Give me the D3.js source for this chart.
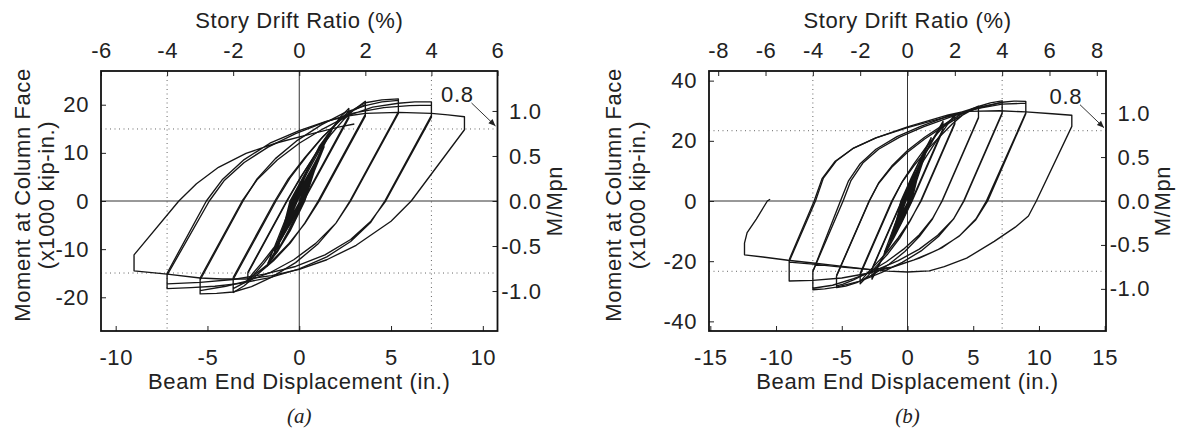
<!DOCTYPE html>
<html><head><meta charset="utf-8">
<script src="https://cdn.jsdelivr.net/npm/d3@7"></script>
<style>
body{margin:0;background:#fff}
svg{display:block}
text{font-family:"Liberation Sans",Arial,Helvetica,sans-serif;fill:#222}
</style>
</head><body>
<svg id="chart" width="1182" height="436"></svg>
<script>
// ---------------- tick labels ----------------
const dispTicksA = [-10, -5, 0, 5, 10];
const driftTicksA = [-6, -4, -2, 0, 2, 4, 6];
const momentTicksA = [-20, -10, 0, 10, 20];
const dispTicksB = [-15, -10, -5, 0, 5, 10, 15];
const driftTicksB = [-8, -6, -4, -2, 0, 2, 4, 6, 8];
const momentTicksB = [-40, -20, 0, 20, 40];
const ratioTicks = [-1.0, -0.5, 0.0, 0.5, 1.0];
const refRatio = [-0.8, 0.8];   // dotted M/Mpn reference
const refDrift = [-4, 4];       // dotted drift reference (%)

// ---------------- specimen (a): [displacement in., moment x1000 kip-in.] ----------------
const a_elastic = [
[0,0],[0.675,5.8],[0.06,0],[-0.675,-5.1],[-0.1,0],
[0.675,5.7],[0.04,0],[-0.675,-5.0],[-0.14,0],
[0.9,7.9],[0.08,0],[-0.9,-7.0],[-0.2,0],
[0.9,7.7],[0.05,0],[-0.9,-6.9],[-0.24,0],
[1.35,11.6],[0.12,0],[-1.35,-10.4],[-0.3,0],
[1.35,11.4],[0.1,0],[-1.35,-10.3],[-0.34,0],
[1.35,11.2],[0.16,0],[-1.35,-10.5],[-0.26,0],
[0.45,6.4],[1.1,11.4],[1.78,15.0],[1.25,11.2],[0.6,5.6],[0.18,0],[-0.55,-6.0],[-1.15,-10.2],[-1.75,-13.5],
[-1.2,-9.8],[-0.4,0],[0.4,6.0],[1.1,11.2],[1.78,14.8],[1.2,10.8],[0.24,0],[-0.6,-6.3],[-1.2,-10.4],[-1.72,-13.3],
[-1.15,-9.5],[-0.46,0],[0.35,5.8],[1.05,10.8],[1.76,14.6],[1.2,10.6],[0.28,0],[-0.55,-6.4],[-1.2,-10.6],[-1.72,-13.1],
[-1.1,-9.1],[-0.5,0],[0.3,5.6],[1.0,10.5],[1.75,14.5],[1.15,10.2],[0.3,0],[-0.5,-6.2],[-1.15,-10.2],[-1.7,-12.9],
[-1.18,-9.6],[-0.36,0],[0.38,5.9],[1.08,11.0],[1.77,14.9],[1.22,10.9],[0.2,0],[-0.58,-6.1],[-1.18,-10.3],[-1.74,-13.4],
[-1.12,-9.3],[-0.44,0],[0.33,5.7],[1.04,10.7],[1.76,14.7],[1.17,10.4],[0.26,0],[-0.52,-6.3],[-1.17,-10.4],[-1.7,-12.9]
];
const a_15 = [
[-1.7,-12.9],[-0.35,0],[0.4,5.6],[1.1,10.5],[1.8,15.0],[2.2,17.3],[2.7,19.2],[2.7,17.6],
[0.2,0],[-0.5,-4.8],[-1.2,-9.2],[-1.9,-12.8],[-2.4,-15.0],[-2.8,-16.8],[-2.8,-15.0],
[-0.66,0],[0.1,5.0],[0.9,9.9],[1.6,14.0],[2.2,16.9],[2.7,18.6],[2.7,17.2],
[0.24,0],[-0.5,-4.9],[-1.3,-9.3],[-2.0,-12.7],[-2.5,-14.9],[-2.8,-16.4],[-2.8,-14.8]
];
const a_2 = [
[-2.8,-14.8],[-0.69,0],[0.1,5.1],[0.9,9.7],[1.7,13.7],[2.4,16.8],[3.0,19.0],[3.6,20.7],[3.6,18.0],
[1.03,0],[0.3,-4.6],[-0.5,-8.8],[-1.4,-12.4],[-2.3,-15.3],[-3.0,-17.6],[-3.6,-19.0],[-3.6,-16.3],
[-1.27,0],[-0.5,4.8],[0.4,9.3],[1.3,13.4],[2.2,16.6],[2.9,18.7],[3.6,20.0],[3.6,17.6],
[1.09,0],[0.3,-4.7],[-0.6,-9.0],[-1.5,-12.5],[-2.4,-15.2],[-3.0,-17.0],[-3.6,-18.2],[-3.6,-15.9]
];
const a_3 = [
[-3.6,-15.9],[-1.33,0],[-0.6,4.6],[0.3,9.0],[1.2,13.0],[2.1,16.4],[2.9,18.9],[3.6,20.4],[4.5,21.0],[5.4,21.2],[5.4,18.5],
[2.76,0],[2.0,-4.6],[1.0,-9.0],[-0.2,-12.8],[-1.5,-15.8],[-2.6,-17.8],[-3.6,-18.9],[-4.5,-19.2],[-5.4,-19.3],[-5.4,-16.4],
[-3.06,0],[-2.3,4.6],[-1.3,8.8],[-0.1,12.6],[1.2,15.8],[2.5,18.4],[3.6,19.8],[4.5,20.6],[5.4,20.9],[5.4,18.2],
[2.8,0],[2.0,-4.6],[0.9,-8.8],[-0.3,-12.2],[-1.6,-14.9],[-2.8,-16.6],[-4.0,-17.7],[-5.4,-18.6],[-5.4,-16.0]
];
const a_4 = [
[-5.4,-16.0],[-3.11,0],[-2.3,4.4],[-1.2,8.5],[0,12.0],[1.3,15.0],[2.7,17.8],[4.0,19.5],[5.4,20.3],[6.3,20.6],[7.2,20.6],[7.2,17.8],
[4.66,0],[3.9,-4.4],[2.8,-8.4],[1.5,-11.6],[0,-14.1],[-1.6,-15.9],[-3.2,-17.1],[-4.6,-17.7],[-5.9,-18.0],[-7.2,-18.2],[-7.2,-15.4],
[-4.9,0],[-4.1,4.2],[-3.0,8.0],[-1.7,11.2],[-0.2,14.0],[1.4,16.4],[3.0,18.3],[4.6,19.4],[6.0,19.8],[7.2,19.9],[7.2,17.4],
[4.71,0],[3.9,-4.2],[2.8,-8.0],[1.4,-11.2],[-0.2,-13.6],[-1.9,-15.2],[-3.6,-16.3],[-5.4,-16.9],[-7.2,-17.2],[-7.2,-15.0]
];
const a_5 = [
[-7.2,-15.0],[-5.06,0],[-4.2,4.4],[-3.0,8.6],[-1.6,12.0],[0,14.6],[1.5,16.6],[2.7,17.7],[3.6,18.2],[5.4,18.4],[7.2,18.2],[8.1,17.9],[9.0,17.5],[9.0,14.8],
[6.1,0],[5.0,-4.2],[3.1,-9.2],[1.5,-12.2],[0,-14.2],[-1.5,-15.5],[-2.9,-16.2],[-4.2,-16.2],[-5.4,-16.0],[-7.2,-15.2],[-9.0,-14.5],[-9.0,-11.2],
[-6.56,0],[-5.6,3.6],[-4.4,7.0],[-2.9,9.9],[-1.2,12.1],[0.6,13.9],[2.2,15.4],[3.0,16.0]
];

// ---------------- specimen (b) ----------------
const b_elastic = [
[0,0],[0.675,7.9],[0.08,0],[-0.675,-6.8],[-0.12,0],
[0.675,7.8],[0.06,0],[-0.675,-6.7],[-0.15,0],
[0.9,10.5],[0.1,0],[-0.9,-9.0],[-0.2,0],
[0.9,10.4],[0.08,0],[-0.9,-8.9],[-0.24,0],
[1.35,15.8],[0.15,0],[-1.35,-13.4],[-0.3,0],
[1.35,15.6],[0.12,0],[-1.35,-13.2],[-0.34,0],
[1.35,15.4],[0.18,0],[-1.35,-13.5],[-0.27,0],
[0.45,8.6],[1.1,15.2],[1.8,21.0],[1.3,16.4],[0.6,8.4],[0.2,0],[-0.55,-7.2],[-1.15,-12.6],[-1.78,-17.6],
[-1.2,-12.6],[-0.4,0],[0.4,8.4],[1.1,15.0],[1.8,20.8],[1.25,15.9],[0.25,0],[-0.6,-7.6],[-1.2,-13.0],[-1.76,-17.4],
[-1.15,-12.2],[-0.45,0],[0.35,8.0],[1.05,14.6],[1.78,20.6],[1.2,15.4],[0.3,0],[-0.55,-7.4],[-1.2,-12.8],[-1.75,-17.2],
[-1.1,-11.8],[-0.5,0],[0.3,7.8],[1.0,14.2],[1.76,20.4],[1.15,15.0],[0.32,0],[-0.5,-7.2],[-1.15,-12.6],[-1.74,-17.0],
[-1.18,-12.4],[-0.38,0],[0.38,8.2],[1.08,14.8],[1.79,20.9],[1.22,15.7],[0.22,0],[-0.58,-7.5],[-1.18,-12.9],[-1.77,-17.5],
[-1.12,-12.0],[-0.47,0],[0.33,7.9],[1.03,14.4],[1.77,20.5],[1.17,15.2],[0.28,0],[-0.52,-7.3],[-1.16,-12.7],[-1.74,-17.0]
];
const b_15 = [
[-1.74,-17.0],[-0.3,0],[0.3,6.5],[1.0,13.0],[1.7,18.8],[2.2,22.6],[2.7,26.5],[2.7,24.0],
[0.3,0],[-0.4,-6.6],[-1.1,-12.8],[-1.8,-18.2],[-2.3,-22.4],[-2.7,-26.0],[-2.7,-22.8],
[-0.42,0],[0.3,6.6],[1.0,12.8],[1.7,18.4],[2.2,22.2],[2.7,25.8],[2.7,23.5],
[0.35,0],[-0.4,-6.8],[-1.1,-12.8],[-1.8,-18.0],[-2.3,-22.0],[-2.7,-25.2],[-2.7,-22.5]
];
const b_2 = [
[-2.7,-22.5],[-0.45,0],[0.3,6.6],[1.1,12.6],[1.9,18.0],[2.6,22.6],[3.1,25.8],[3.6,28.8],[3.6,26.0],
[1.0,0],[0.2,-6.6],[-0.6,-12.4],[-1.5,-17.6],[-2.4,-21.8],[-3.0,-24.8],[-3.6,-27.5],[-3.6,-24.5],
[-1.15,0],[-0.4,6.4],[0.5,12.4],[1.4,17.8],[2.3,22.6],[3.0,25.9],[3.6,28.2],[3.6,25.6],
[1.04,0],[0.2,-6.4],[-0.7,-12.2],[-1.6,-17.2],[-2.5,-21.4],[-3.1,-24.2],[-3.6,-26.8],[-3.6,-24.0]
];
const b_3 = [
[-3.6,-24.0],[-1.2,0],[-0.45,6.0],[0.5,11.8],[1.5,17.0],[2.5,21.6],[3.4,25.6],[4.2,28.6],[4.9,30.6],[5.4,31.5],[5.4,27.8],
[2.62,0],[1.9,-6.0],[0.9,-11.8],[-0.2,-16.8],[-1.4,-21.0],[-2.6,-24.4],[-3.8,-27.0],[-4.7,-28.3],[-5.4,-28.8],[-5.4,-25.0],
[-2.9,0],[-2.2,5.8],[-1.2,11.2],[0,16.2],[1.3,20.6],[2.6,24.4],[3.8,27.6],[4.7,29.8],[5.4,31.0],[5.4,27.6],
[2.64,0],[1.9,-5.8],[0.9,-11.2],[-0.3,-16.0],[-1.6,-20.2],[-2.9,-23.6],[-4.1,-26.2],[-4.9,-27.6],[-5.4,-28.2],[-5.4,-24.8]
];
const b_4 = [
[-5.4,-24.8],[-2.92,0],[-2.2,6.0],[-1.2,11.6],[0,16.8],[1.3,21.2],[2.7,25.2],[4.0,28.6],[5.4,31.4],[6.3,32.6],[7.2,33.3],[7.2,29.3],
[4.27,0],[3.5,-6.0],[2.4,-11.6],[1.1,-16.4],[-0.4,-20.4],[-2.0,-23.8],[-3.6,-26.6],[-5.4,-28.6],[-6.3,-29.2],[-7.2,-29.5],[-7.2,-23.4],
[-4.9,0],[-4.3,6.8],[-3.4,12.6],[-2.2,17.2],[-0.6,21.2],[1.2,24.6],[3.2,27.8],[5.0,30.4],[6.2,31.8],[7.2,32.8],[7.2,29.0],
[4.3,0],[3.5,-6.0],[2.3,-11.4],[0.9,-16.0],[-0.7,-19.8],[-2.4,-23.0],[-4.1,-25.8],[-5.7,-28.0],[-7.2,-29.0],[-7.2,-23.4]
];
const b_5 = [
[-7.2,-23.4],[-5.1,0],[-4.5,6.6],[-3.6,12.4],[-2.4,17.2],[-0.8,21.4],[1.0,24.8],[3.0,28.0],[5.0,30.8],[7.2,32.8],[8.1,33.2],[9.0,33.1],[9.0,29.3],
[6.0,0],[5.2,-6.0],[4.0,-11.4],[2.6,-15.6],[0.9,-19.0],[-1.0,-21.8],[-3.0,-24.0],[-5.0,-25.6],[-7.2,-26.4],[-9.0,-26.6],[-9.0,-20.1],
[-7.0,0],[-6.4,7.6],[-5.4,13.4],[-4.1,17.6],[-2.4,21.0],[0,24.6],[3.1,28.6],[5.4,30.8],[7.2,32.2],[9.0,32.5],[9.0,29.0],
[6.1,0],[5.2,-6.2],[3.9,-11.8],[2.3,-16.2],[0.5,-19.6],[-1.2,-22.0],[-2.8,-22.8],[-5.4,-21.8],[-7.2,-21.0],[-9.0,-20.3],[-9.0,-19.5]
];
const b_7 = [
[-9.0,-19.5],[-7.1,0],[-6.5,7.4],[-5.5,13.2],[-4.1,17.6],[-2.4,21.0],[0,24.4],[2.5,27.4],[4.6,29.8],[7.0,30.0],[9.0,29.6],[11.0,29.0],[12.5,28.5],[12.5,24.8],
[9.8,0],[9.2,-5.0],[8.2,-8.7],[6.6,-13.4],[4.5,-19.0],[2.8,-21.8],[1.66,-23.2],[0,-23.6],[-1.5,-23.3],[-2.8,-22.8],[-5.4,-21.5],[-7.2,-20.6],[-9.1,-19.7],[-11.0,-18.6],[-12.4,-17.9],[-12.4,-14.0],
[-12.2,-10.5],[-11.5,-6.0],[-10.66,0],[-10.45,0.6]
];

// ---------------- layout ----------------
const panels = [
  {px:[101,497.5], py:[71,331], xDom:[-10.8,10.8], yDom:[-27,27], Mpn:18.7, inPerPct:1.8,
   dispTicks:dispTicksA, driftTicks:driftTicksA, momTicks:momentTicksA,
   loops:[a_elastic,a_15,a_2,a_3,a_4,a_5], label:"(a)", yTitleX:[30,54], rTitleX:562},
  {px:[709,1106], py:[71,331], xDom:[-15.1,15.1], yDom:[-43.2,43.2], Mpn:29.2, inPerPct:1.8,
   dispTicks:dispTicksB, driftTicks:driftTicksB, momTicks:momentTicksB,
   loops:[b_elastic,b_15,b_2,b_3,b_4,b_5,b_7], label:"(b)", yTitleX:[621,645], rTitleX:1170}
];

const svg = d3.select("#chart");
const FS = 22;
const LS = "0.6px";

function styleAxis(g){
  g.attr("font-size", null).attr("font-family", null);
  g.select(".domain").remove();
  g.selectAll(".tick line").attr("stroke","#222").attr("stroke-width",1);
  g.selectAll(".tick text").style("font-size", FS+"px").style("letter-spacing", LS).attr("fill","#222");
}

panels.forEach(p => {
  const x = d3.scaleLinear().domain(p.xDom).range(p.px);
  const y = d3.scaleLinear().domain(p.yDom).range([p.py[1], p.py[0]]);
  const xTop = d3.scaleLinear().domain(p.xDom.map(v => v / p.inPerPct)).range(p.px);
  const yR = d3.scaleLinear().domain(p.yDom.map(v => v / p.Mpn)).range([p.py[1], p.py[0]]);
  const g = svg.append("g");

  // dotted reference lines
  refDrift.forEach(v => g.append("line")
    .attr("x1", xTop(v)).attr("x2", xTop(v)).attr("y1", p.py[0]).attr("y2", p.py[1])
    .attr("stroke","#666").attr("stroke-width",1).attr("stroke-dasharray","1,3.5"));
  refRatio.forEach(v => g.append("line")
    .attr("x1", p.px[0]).attr("x2", p.px[1]).attr("y1", yR(v)).attr("y2", yR(v))
    .attr("stroke","#666").attr("stroke-width",1).attr("stroke-dasharray","1,3.5"));

  // zero lines
  g.append("line").attr("x1", x(0)).attr("x2", x(0)).attr("y1", p.py[0]).attr("y2", p.py[1])
    .attr("stroke","#333").attr("stroke-width",1);
  g.append("line").attr("x1", p.px[0]).attr("x2", p.px[1]).attr("y1", y(0)).attr("y2", y(0))
    .attr("stroke","#333").attr("stroke-width",1);

  // hysteresis loops
  const line = d3.line().x(d => x(d[0])).y(d => y(d[1]));
  p.loops.forEach(L => g.append("path").attr("d", line(L))
    .attr("fill","none").attr("stroke","#161616").attr("stroke-width",1.35)
    .attr("stroke-linejoin","round"));

  // axes
  const fmt = d => String(d);
  g.append("g").attr("transform",`translate(0,${p.py[1]})`)
    .call(d3.axisBottom(x).tickValues(p.dispTicks).tickFormat(fmt).tickSizeInner(-5).tickSizeOuter(0).tickPadding(18))
    .call(styleAxis);
  g.append("g").attr("transform",`translate(0,${p.py[0]})`)
    .call(d3.axisTop(xTop).tickValues(p.driftTicks).tickFormat(fmt).tickSizeInner(-5).tickSizeOuter(0).tickPadding(13))
    .call(styleAxis);
  g.append("g").attr("transform",`translate(${p.px[0]},0)`)
    .call(d3.axisLeft(y).tickValues(p.momTicks).tickFormat(fmt).tickSizeInner(-5).tickSizeOuter(0).tickPadding(12))
    .call(styleAxis);
  const ra = g.append("g").attr("transform",`translate(${p.px[1]},0)`)
    .call(d3.axisRight(yR).tickValues(ratioTicks).tickFormat(d => d.toFixed(1)).tickSizeInner(-5).tickSizeOuter(0))
    .call(styleAxis);
  ra.selectAll(".tick text").attr("text-anchor","end").attr("x", 44);

  // frame
  g.append("rect").attr("x", p.px[0]).attr("y", p.py[0])
    .attr("width", p.px[1]-p.px[0]).attr("height", p.py[1]-p.py[0])
    .attr("fill","none").attr("stroke","#111").attr("stroke-width",1.8);

  // titles
  const cx = x(0);
  const T = (sel) => sel.style("font-size", FS+"px").style("letter-spacing", LS);
  g.append("text").attr("x", cx).attr("y", 28).attr("text-anchor","middle")
    .call(T).text("Story Drift Ratio (%)");
  g.append("text").attr("x", cx).attr("y", 389).attr("text-anchor","middle")
    .call(T).text("Beam End Displacement (in.)");
  g.append("text").attr("x", cx).attr("y", 423).attr("text-anchor","middle")
    .style("font-size","21px").style("font-family","'Liberation Serif','Times New Roman',serif")
    .style("font-style","italic").text(p.label);
  const cy = (p.py[0] + p.py[1]) / 2 - 6;
  g.append("text").attr("transform",`translate(${p.yTitleX[0]},${cy}) rotate(-90)`)
    .attr("text-anchor","middle").call(T).text("Moment at Column Face");
  g.append("text").attr("transform",`translate(${p.yTitleX[1]},${cy}) rotate(-90)`)
    .attr("text-anchor","middle").call(T).text("(x1000 kip-in.)");
  g.append("text").attr("transform",`translate(${p.rTitleX},${y(0)}) rotate(-90)`)
    .attr("text-anchor","middle").call(T).text("M/Mpn");

  // 0.8 annotation with arrow
  const ex = p.px[1] - 2, ey = yR(0.8) - 3;
  const sx = ex - 24, sy = ey - 23;
  g.append("line").attr("x1", sx).attr("y1", sy).attr("x2", ex).attr("y2", ey)
    .attr("stroke","#333").attr("stroke-width",1);
  const ang = Math.atan2(ey - sy, ex - sx);
  const hl = 7, hw = 3;
  const bx = ex - hl*Math.cos(ang), by = ey - hl*Math.sin(ang);
  g.append("path").attr("d", `M${ex},${ey}L${bx - hw*Math.sin(ang)},${by + hw*Math.cos(ang)}L${bx + hw*Math.sin(ang)},${by - hw*Math.cos(ang)}Z`)
    .attr("fill","#222");
  g.append("text").attr("x", sx + 2).attr("y", sy - 1).attr("text-anchor","end")
    .call(T).text("0.8");
});
</script>
</body></html>
